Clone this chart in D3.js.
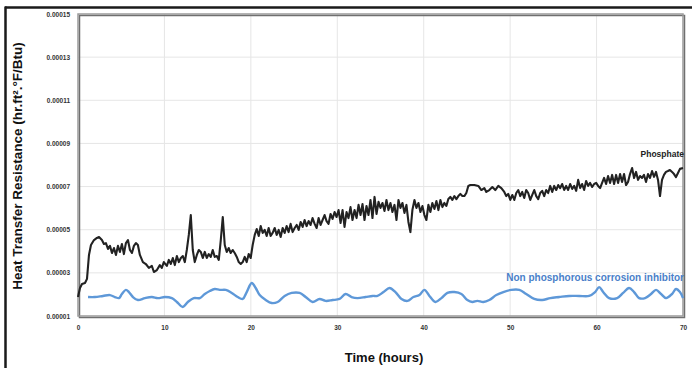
<!DOCTYPE html>
<html>
<head>
<meta charset="utf-8">
<script src="https://cdn.jsdelivr.net/npm/d3@7"></script>
<style>
  html, body { margin: 0; padding: 0; background: #fff; }
  svg { display: block; }
  text { font-family: "Liberation Sans", Arial, sans-serif; font-weight: bold; }
</style>
</head>
<body>
<svg id="chart" width="692" height="368"></svg>
<script>
// ---- DATA (values in units of 1e-5 hr.ft².°F/Btu) ----
const UNIT = 1e-5;

const phosphateTime = [
  0,0.23,0.46,0.81,1.04,1.27,1.50,1.85,2.19,2.43,2.77,3.00,3.23,3.47,3.70,3.93,4.16,4.39,4.62,4.85,
  5.08,5.31,5.54,5.78,6.01,6.24,6.47,6.70,6.93,7.16,7.51,7.85,8.20,8.55,8.78,9.13,9.47,9.70,9.93,10.28,
  10.51,10.74,10.97,11.20,11.44,11.67,11.90,12.13,12.36,12.59,12.82,13.05,13.28,13.51,13.75,13.98,14.21,14.44,14.67,14.90,
  15.13,15.36,15.59,15.82,16.06,16.29,16.52,16.75,16.98,17.21,17.44,17.67,17.90,18.13,18.37,18.60,18.83,19.06,19.29,19.52,
  19.75,19.98,20.21,20.45,20.68,20.91,21.14,21.37,21.60,21.83,22.06,22.29,22.52,22.76,22.99,23.22,23.45,23.68,23.91,24.14,
  24.37,24.60,24.83,25.07,25.30,25.53,25.76,25.99,26.22,26.45,26.68,26.91,27.14,27.38,27.61,27.84,28.07,28.30,28.53,28.76,
  28.99,29.22,29.45,29.69,29.92,30.15,30.38,30.61,30.84,31.07,31.30,31.53,31.76,32.00,32.23,32.46,32.69,32.92,33.15,33.38,
  33.61,33.84,34.07,34.31,34.54,34.77,35.00,35.23,35.46,35.69,35.92,36.15,36.38,36.62,36.85,37.08,37.31,37.54,37.77,38.00,
  38.23,38.46,38.69,38.93,39.16,39.39,39.62,39.85,40.08,40.31,40.54,40.77,41.00,41.24,41.47,41.70,41.93,42.16,42.39,42.62,
  42.85,43.08,43.31,43.55,43.78,44.01,44.24,44.47,44.70,44.93,45.16,45.39,45.86,46.32,46.67,47.01,47.24,47.59,47.94,48.28,
  48.63,48.98,49.32,49.55,49.78,50.02,50.25,50.48,50.71,50.94,51.17,51.40,51.63,51.86,52.09,52.33,52.56,52.79,53.02,53.25,
  53.48,53.71,53.94,54.17,54.40,54.63,54.87,55.10,55.33,55.56,55.79,56.02,56.25,56.48,56.71,56.94,57.18,57.41,57.64,57.87,
  58.10,58.33,58.56,58.79,59.02,59.25,59.49,59.72,59.95,60.18,60.41,60.64,60.87,61.10,61.33,61.56,61.80,62.03,62.26,62.49,
  62.72,62.95,63.18,63.41,63.64,63.87,64.11,64.34,64.57,64.80,65.03,65.26,65.49,65.72,65.95,66.18,66.42,66.65,66.88,67.11,
  67.34,67.57,67.80,68.03,68.26,68.49,68.73,68.96,69.19,69.42,69.65,70.00
];
const phosphateValue = [
  1.88,2.30,2.48,2.53,2.72,3.83,4.29,4.52,4.62,4.66,4.52,4.34,4.38,4.11,4.25,3.92,4.15,3.83,4.25,3.97,
  4.34,3.87,4.38,4.52,4.06,3.92,4.25,4.38,4.29,3.83,3.50,3.41,3.23,3.32,3.04,3.13,3.36,3.23,3.50,3.32,
  3.60,3.41,3.69,3.36,3.78,3.50,3.69,3.78,3.50,4.06,4.76,5.68,4.06,3.50,3.83,4.06,3.97,3.69,3.97,3.69,
  3.87,3.74,4.06,3.74,3.78,3.60,4.52,5.59,4.29,3.97,4.15,3.92,4.06,3.92,3.74,3.50,3.41,3.50,3.74,3.50,
  3.87,3.69,4.29,4.76,5.03,4.71,5.17,4.85,4.99,4.71,5.08,4.71,4.85,5.08,4.76,4.99,4.66,5.08,4.85,5.17,
  4.89,5.27,4.89,5.08,5.22,4.99,5.36,5.13,5.45,5.17,5.40,5.22,5.54,5.27,5.08,5.54,5.22,5.45,5.68,5.40,
  5.27,5.73,5.50,5.82,5.59,5.91,5.31,5.91,5.13,5.82,5.54,6.05,5.45,5.91,5.54,6.15,5.68,6.19,5.45,6.10,
  5.68,6.38,5.54,6.52,5.73,6.29,6.01,6.24,5.87,6.38,5.91,6.24,5.82,6.15,5.45,6.38,6.01,6.24,5.78,6.15,
  5.36,4.89,5.91,6.38,6.01,6.24,5.82,6.10,5.68,5.45,6.15,5.82,6.24,5.96,6.33,5.91,6.38,6.05,6.24,6.10,
  6.42,6.52,6.38,6.56,6.42,6.56,6.66,6.56,6.56,6.70,7.03,7.07,7.07,7.03,6.84,6.93,6.75,6.84,6.98,6.84,
  7.03,6.93,6.75,6.56,6.66,6.38,6.61,6.38,6.70,6.84,6.56,6.75,6.47,6.84,6.70,6.38,6.61,6.84,6.56,6.42,
  6.70,6.80,6.56,6.84,6.70,7.03,6.75,7.03,6.84,7.07,6.93,7.12,6.84,7.03,6.84,7.12,6.89,7.03,6.80,7.31,
  6.93,7.12,6.84,7.26,7.03,7.17,6.98,7.12,7.17,7.03,6.93,7.17,7.40,7.12,7.49,7.17,7.54,7.12,7.54,7.17,
  7.58,7.21,7.58,7.07,7.21,7.58,7.86,7.40,7.68,7.31,7.49,7.40,7.54,7.21,7.58,7.40,7.72,7.45,7.68,7.31,
  6.56,7.31,7.54,7.68,7.72,7.77,7.68,7.58,7.44,7.63,7.82,7.86
];

const inhibitorTime = [
  1.16,1.96,2.89,3.70,4.27,4.74,5.08,5.54,5.89,6.35,6.93,7.74,8.55,9.24,10.05,10.86,11.44,12.13,12.71,13.40,
  14.09,14.67,15.25,15.82,16.40,17.10,17.79,18.48,19.06,19.52,20.10,20.56,21.02,21.72,22.41,23.10,23.91,24.72,25.64,26.34,
  27.14,27.95,28.65,29.46,30.26,30.96,31.65,32.34,33.27,34.08,34.65,35.35,36.04,36.73,37.43,38.12,38.81,39.50,40.08,40.66,
  41.35,42.05,42.74,43.55,44.36,45.05,45.63,46.20,46.90,47.59,48.40,49.21,50.13,51.06,51.86,52.79,53.71,54.64,55.68,56.83,
  57.99,59.14,59.83,60.30,60.76,61.45,62.38,63.07,63.76,64.34,64.92,65.61,66.30,66.88,67.46,68.04,68.73,69.19,69.65,70.00
];
const inhibitorValue = [
  1.88,1.88,1.93,1.97,1.88,1.83,2.02,2.21,2.11,1.88,1.74,1.83,1.88,1.83,1.88,1.83,1.65,1.42,1.65,1.83,
  1.83,2.02,2.16,2.25,2.21,2.21,2.07,1.88,1.79,2.11,2.53,2.30,1.97,1.74,1.60,1.65,1.93,2.07,2.07,1.88,
  1.65,1.79,1.70,1.74,1.79,2.02,1.88,1.83,1.88,1.93,1.93,2.11,2.30,2.11,1.79,1.70,1.88,1.97,2.21,1.93,
  1.65,1.83,2.07,2.11,2.02,1.74,1.65,1.70,1.65,1.74,1.97,2.11,2.21,2.21,2.02,1.79,1.74,1.83,1.88,1.93,
  1.93,1.93,2.11,2.34,2.11,1.83,1.83,2.07,2.30,2.11,1.83,1.83,2.02,2.21,2.02,1.83,2.02,2.25,2.11,1.83
];

const xTickValues = [0, 10, 20, 30, 40, 50, 60, 70];
const xTickLabels = ["0", "10", "20", "30", "40", "50", "60", "70"];
const yTickValues = [0.00001, 0.00003, 0.00005, 0.00007, 0.00009, 0.00011, 0.00013, 0.00015];
const yTickLabels = ["0.00001", "0.00003", "0.00005", "0.00007", "0.00009", "0.00011", "0.00013", "0.00015"];

const seriesNames = ["Phosphate", "Non phosphorous corrosion inhibitor"];
const xTitle = "Time (hours)";
const yTitle = "Heat Transfer Resistance (hr.ft².°F/Btu)";

// ---- CHART ----
const svg = d3.select("#chart");
const L = 78, R = 683, T = 14, B = 316;

const x = d3.scaleLinear().domain([0, 70]).range([L, R]);
const y = d3.scaleLinear().domain([0.00001, 0.00015]).range([B, T]);

// outer frame (top and left dark lines)
svg.append("line").attr("x1", 5).attr("x2", 692).attr("y1", 7.5).attr("y2", 7.5)
  .attr("stroke", "#1a1a1a").attr("stroke-width", 2.5);
svg.append("line").attr("x1", 5.5).attr("x2", 5.5).attr("y1", 6.5).attr("y2", 368)
  .attr("stroke", "#1a1a1a").attr("stroke-width", 2.5);

// gridlines
const grid = svg.append("g");
grid.selectAll("line.v").data(xTickValues.slice(1, -1)).join("line")
  .attr("x1", d => x(d)).attr("x2", d => x(d)).attr("y1", T).attr("y2", B)
  .attr("stroke", "#e6e6e6").attr("stroke-width", 1);
grid.selectAll("line.h").data(yTickValues.slice(1, -1)).join("line")
  .attr("x1", L).attr("x2", R).attr("y1", d => y(d)).attr("y2", d => y(d))
  .attr("stroke", "#e6e6e6").attr("stroke-width", 1);

// plot box with slight shadow
svg.append("rect").attr("x", L + 1.5).attr("y", T + 1.5).attr("width", R - L).attr("height", B - T)
  .attr("fill", "none").attr("stroke", "#6f6f6f").attr("stroke-width", 1.5);
svg.append("rect").attr("x", L).attr("y", T).attr("width", R - L).attr("height", B - T)
  .attr("fill", "none").attr("stroke", "#9a9a9a").attr("stroke-width", 1.5);

// axes via d3
const xAxis = d3.axisBottom(x).tickValues(xTickValues)
  .tickFormat((d, i) => xTickLabels[i]).tickSize(0).tickPadding(9);
const gx = svg.append("g").attr("transform", `translate(0,${B})`).call(xAxis);
gx.select(".domain").remove();
gx.selectAll("text").attr("font-size", 6.5).attr("fill", "#333")
  .attr("font-family", "Liberation Sans, Arial, sans-serif").attr("font-weight", "bold");

const yAxis = d3.axisLeft(y).tickValues(yTickValues)
  .tickFormat((d, i) => yTickLabels[i]).tickSize(0).tickPadding(8);
const gy = svg.append("g").attr("transform", `translate(${L},0)`).call(yAxis);
gy.select(".domain").remove();
gy.selectAll("text").attr("font-size", 6.5).attr("fill", "#333")
  .attr("font-family", "Liberation Sans, Arial, sans-serif").attr("font-weight", "bold");

// lines
const phos = phosphateTime.map((t, i) => [t, phosphateValue[i] * UNIT]);
const inh = inhibitorTime.map((t, i) => [t, inhibitorValue[i] * UNIT]);
const line = d3.line().x(d => x(d[0])).y(d => y(d[1]));
const smoothLine = d3.line().x(d => x(d[0])).y(d => y(d[1])).curve(d3.curveCatmullRom.alpha(0.5));

svg.append("path").datum(inh).attr("d", smoothLine)
  .attr("fill", "none").attr("stroke", "#5e98d8").attr("stroke-width", 2.4)
  .attr("stroke-linejoin", "round");
svg.append("path").datum(phos).attr("d", line)
  .attr("fill", "none").attr("stroke", "#222").attr("stroke-width", 2.1)
  .attr("stroke-linejoin", "round");

// series labels
svg.append("text").attr("x", 684).attr("y", 157).attr("text-anchor", "end")
  .attr("font-size", 8.5).attr("fill", "#222").text(seriesNames[0]);
svg.append("text").attr("x", 684).attr("y", 281).attr("text-anchor", "end")
  .attr("font-size", 10).attr("fill", "#4a7fc9").text(seriesNames[1]);

// axis titles
svg.append("text").attr("x", 384).attr("y", 362).attr("text-anchor", "middle")
  .attr("font-size", 13).attr("fill", "#111").text(xTitle);
svg.append("text").attr("transform", "translate(22,166) rotate(-90)")
  .attr("text-anchor", "middle").attr("font-size", 13.5).attr("fill", "#111").text(yTitle);
</script>
</body>
</html>
